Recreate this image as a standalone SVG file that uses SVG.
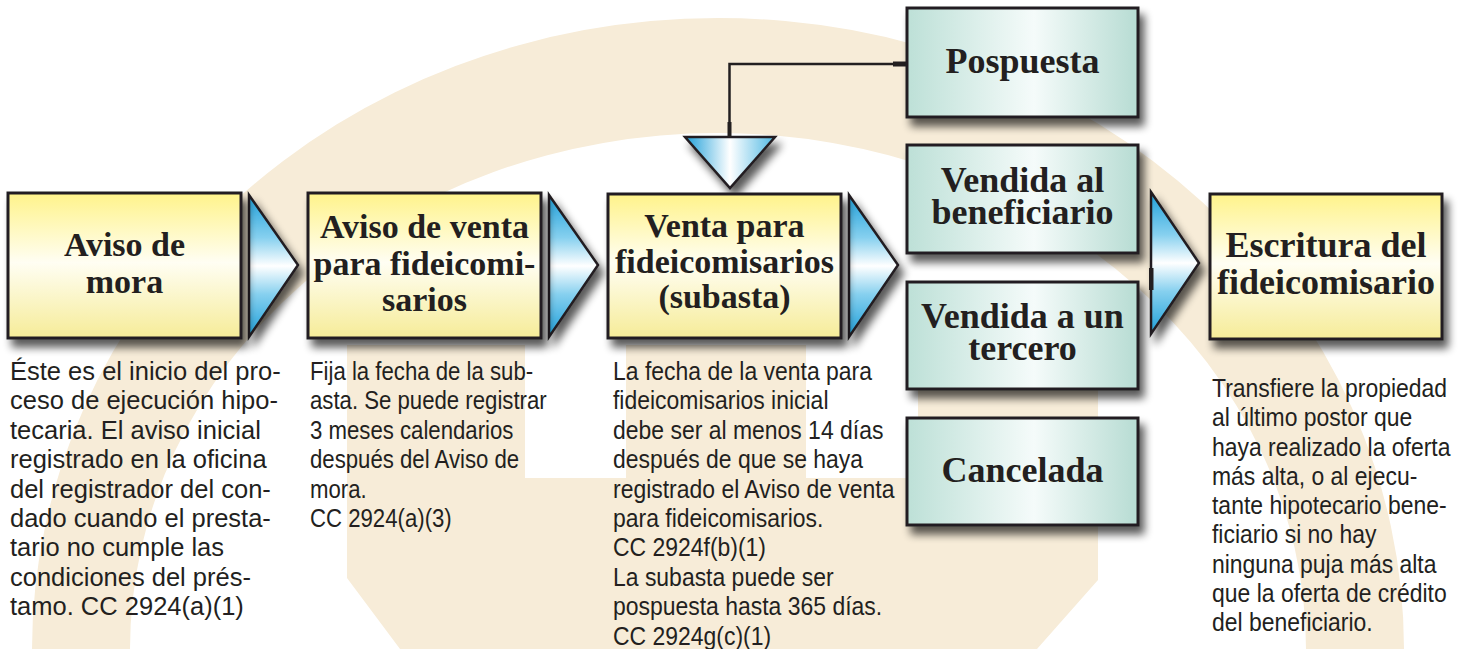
<svg xmlns="http://www.w3.org/2000/svg" width="1463" height="649" viewBox="0 0 1463 649">
  <defs>
    <linearGradient id="gYellow" x1="0" y1="0" x2="0" y2="1">
      <stop offset="0" stop-color="#fff38a"/>
      <stop offset="0.48" stop-color="#fffef3"/>
      <stop offset="1" stop-color="#f6ec98"/>
    </linearGradient>
    <linearGradient id="gTeal" x1="0" y1="0" x2="1" y2="0">
      <stop offset="0" stop-color="#bde0d7"/>
      <stop offset="0.55" stop-color="#f5fbfa"/>
      <stop offset="1" stop-color="#b7dcd3"/>
    </linearGradient>
    <linearGradient id="gArrowR" x1="0" y1="0" x2="0" y2="1">
      <stop offset="0" stop-color="#1e9fd9"/>
      <stop offset="0.3" stop-color="#86d0ef"/>
      <stop offset="0.5" stop-color="#ffffff"/>
      <stop offset="0.7" stop-color="#86d0ef"/>
      <stop offset="1" stop-color="#1e9fd9"/>
    </linearGradient>
    <linearGradient id="gArrowD" x1="0" y1="0" x2="1" y2="0">
      <stop offset="0" stop-color="#1e9fd9"/>
      <stop offset="0.5" stop-color="#ffffff"/>
      <stop offset="1" stop-color="#4fb8e3"/>
    </linearGradient>
    <filter id="shadow" x="-20%" y="-20%" width="150%" height="160%">
      <feGaussianBlur in="SourceAlpha" stdDeviation="4.5"/>
      <feOffset dx="5" dy="8" result="b"/>
      <feComponentTransfer><feFuncA type="linear" slope="0.65"/></feComponentTransfer>
      <feMerge><feMergeNode/><feMergeNode in="SourceGraphic"/></feMerge>
    </filter>
  </defs>
  <style>
    .box-y { fill: url(#gYellow); stroke: #231f20; stroke-width: 3; }
    .box-t { fill: url(#gTeal); stroke: #231f20; stroke-width: 3; }
    .arrow-r { fill: url(#gArrowR); stroke: #231f20; stroke-width: 2.5; stroke-linejoin: miter; }
    .arrow-d { fill: url(#gArrowD); stroke: #231f20; stroke-width: 2.5; }
    .title { font-family: 'Liberation Serif', 'Times New Roman', serif; font-weight: bold; fill: #231f20; text-anchor: middle; }
    .ty { font-size: 34px; }
    .tt { font-size: 36px; }
    .body { font-family: 'Liberation Sans', Arial, sans-serif; font-size: 25.5px; fill: #231f20; }
    .line { fill: none; stroke: #231f20; stroke-width: 2.5; }
  </style>

  <rect x="0" y="0" width="1463" height="649" fill="#ffffff"/>

  <g id="background" fill="#f7ecd8">
    <path fill-rule="evenodd" d="M 32 649 A 686 631 0 1 1 1404 649 A 686 631 0 1 1 32 649 Z M 130 649 A 588 516 0 1 1 1306 649 A 588 516 0 1 1 130 649 Z"/>
    <path d="M 347 345 H 525 V 478 H 626 V 345 H 806 V 478 H 918 V 345 H 1098 V 580 L 1037 649 H 400 L 347 578 Z"/>
  </g>

  <g id="connectors">
    <g filter="url(#shadow)">
      <polygon class="arrow-r" points="249,195 298,265 249,337"/>
      <polygon class="arrow-r" points="549,195 598,265 549,337"/>
      <polygon class="arrow-r" points="849,195 898,265 849,337"/>
      <polygon class="arrow-r" points="1151,192 1199,263 1151,334"/>
      <polygon class="arrow-d" points="685,137 775,137 730,188"/>
    </g>
    <path class="line" d="M 907 64 H 729.5 V 137"/>
    <path fill="none" stroke="#231f20" stroke-width="5" d="M 893 64 H 907"/>
    <path fill="none" stroke="#231f20" stroke-width="4" d="M 729.5 122 V 137"/>
    <rect x="1149" y="268" width="4.5" height="22" fill="#231f20"/>
  </g>

  <g id="node-aviso-mora">
    <rect class="box-y" x="8" y="193" width="233" height="145" filter="url(#shadow)"/>
    <text class="title ty"><tspan x="124.5" y="256">Aviso de</tspan><tspan x="124.5" y="293">mora</tspan></text>
  </g>

  <g id="node-aviso-venta">
    <rect class="box-y" x="308" y="193" width="233" height="145" filter="url(#shadow)"/>
    <text class="title ty"><tspan x="424.5" y="238">Aviso de venta</tspan><tspan x="424.5" y="275">para fideicomi-</tspan><tspan x="424.5" y="311">sarios</tspan></text>
  </g>

  <g id="node-venta">
    <rect class="box-y" x="608" y="194" width="233" height="144" filter="url(#shadow)"/>
    <text class="title ty"><tspan x="724.5" y="237">Venta para</tspan><tspan x="724.5" y="273">fideicomisarios</tspan><tspan x="724.5" y="308">(subasta)</tspan></text>
  </g>

  <g id="node-pospuesta">
    <rect class="box-t" x="907" y="8" width="231" height="109" filter="url(#shadow)"/>
    <text class="title tt" x="1022.5" y="73">Pospuesta</text>
  </g>

  <g id="node-vendida-beneficiario">
    <rect class="box-t" x="907" y="145" width="231" height="108" filter="url(#shadow)"/>
    <text class="title tt"><tspan x="1022.5" y="192">Vendida al</tspan><tspan x="1022.5" y="224">beneficiario</tspan></text>
  </g>

  <g id="node-vendida-tercero">
    <rect class="box-t" x="907" y="282" width="231" height="107" filter="url(#shadow)"/>
    <text class="title tt"><tspan x="1022.5" y="328">Vendida a un</tspan><tspan x="1022.5" y="360">tercero</tspan></text>
  </g>

  <g id="node-cancelada">
    <rect class="box-t" x="907" y="418" width="231" height="107" filter="url(#shadow)"/>
    <text class="title tt" x="1022.5" y="482">Cancelada</text>
  </g>

  <g id="node-escritura">
    <rect class="box-y" x="1210" y="194" width="232" height="145" filter="url(#shadow)"/>
    <text class="title" font-size="36"><tspan x="1326" y="257">Escritura del</tspan><tspan x="1326" y="294">fideicomisario</tspan></text>
  </g>

  <g id="desc-aviso-mora" class="body" transform="translate(10 0)">
    <text x="0" y="380">Éste es el inicio del pro-</text>
    <text x="0" y="409.4">ceso de ejecución hipo-</text>
    <text x="0" y="438.8">tecaria. El aviso inicial</text>
    <text x="0" y="468.2">registrado en la oficina</text>
    <text x="0" y="497.6">del registrador del con-</text>
    <text x="0" y="527">dado cuando el presta-</text>
    <text x="0" y="556.4">tario no cumple las</text>
    <text x="0" y="585.8">condiciones del prés-</text>
    <text x="0" y="615.2">tamo. CC 2924(a)(1)</text>
  </g>

  <g id="desc-aviso-venta" class="body" transform="translate(310 0) scale(0.87 1)">
    <text x="0" y="380">Fija la fecha de la sub-</text>
    <text x="0" y="409.4">asta. Se puede registrar</text>
    <text x="0" y="438.8">3 meses calendarios</text>
    <text x="0" y="468.2">después del Aviso de</text>
    <text x="0" y="497.6">mora.</text>
    <text x="0" y="527">CC 2924(a)(3)</text>
  </g>

  <g id="desc-venta" class="body" transform="translate(613 0) scale(0.9 1)">
    <text x="0" y="380">La fecha de la venta para</text>
    <text x="0" y="409.4">fideicomisarios inicial</text>
    <text x="0" y="438.8">debe ser al menos 14 días</text>
    <text x="0" y="468.2">después de que se haya</text>
    <text x="0" y="497.6">registrado el Aviso de venta</text>
    <text x="0" y="527">para fideicomisarios.</text>
    <text x="0" y="556.4">CC 2924f(b)(1)</text>
    <text x="0" y="585.8">La subasta puede ser</text>
    <text x="0" y="615.2">pospuesta hasta 365 días.</text>
    <text x="0" y="644.6">CC 2924g(c)(1)</text>
  </g>

  <g id="desc-escritura" class="body" transform="translate(1212 0) scale(0.9 1)">
    <text x="0" y="397">Transfiere la propiedad</text>
    <text x="0" y="426.3">al último postor que</text>
    <text x="0" y="455.6">haya realizado la oferta</text>
    <text x="0" y="484.9">más alta, o al ejecu-</text>
    <text x="0" y="514.2">tante hipotecario bene-</text>
    <text x="0" y="543.5">ficiario si no hay</text>
    <text x="0" y="572.8">ninguna puja más alta</text>
    <text x="0" y="602.1">que la oferta de crédito</text>
    <text x="0" y="631.4">del beneficiario.</text>
  </g>
</svg>
